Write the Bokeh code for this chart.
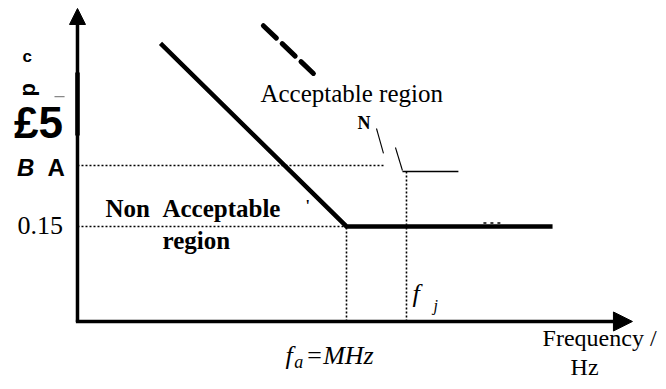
import math
from bokeh.plotting import figure
from bokeh.models import Range1d, Label, Arrow, NormalHead
from bokeh.embed import file_html
from bokeh.resources import INLINE

# ---- data (diagram units: frequency in units of f_a, level in V) ----
limit_x = [0.3086, 1.0, 1.766]          # threshold curve
limit_y = [0.439, 0.15, 0.15]
dash_x = [0.691, 0.877]                 # dashed extrapolation
dash_y = [0.467, 0.3916]
level_low = 0.15                        # 0.15 level
level_high = 0.2463                     # upper dotted level
fa = 1.0                                # f_a
fj = 1.223                              # f_j
fj_level = 0.2368
step_x = [1.208, 1.416]
upper_dot_end = 1.145
slash_x0 = [1.1115, 1.182]
slash_y0 = [0.3047, 0.2747]
slash_x1 = [1.1375, 1.208]
slash_y1 = [0.2653, 0.2384]
bump_x = [1.509, 1.572]
bump_y = [0.1555, 0.1555]
x_axis_end = 2.063
y_axis_end = 0.4942

SERIF = "Liberation Serif"
SANS = "Liberation Sans"

p = figure(width=666, height=389, output_backend="svg", toolbar_location=None,
           x_range=Range1d(-0.2862, 2.1896), y_range=Range1d(-0.1074, 0.5068),
           x_axis_location=None, y_axis_location=None, min_border=0)
p.grid.visible = False
p.outline_line_color = None
p.background_fill_color = "white"
p.border_fill_color = "white"

# dotted guide lines
dot = dict(line_color="black", line_width=1.6, line_dash="2 2")
p.line([0, fa], [level_low, level_low], **dot)
p.line([0, upper_dot_end], [level_high, level_high], **dot)
p.line([fa, fa], [0, level_low], **dot)
p.line([fj, fj], [0, fj_level], **dot)

# threshold curve
p.line(limit_x, limit_y, line_color="black", line_width=4.5, line_join="miter")
p.line(dash_x, dash_y, line_color="black", line_width=5, line_dash="18 8", line_cap="round")
p.line(bump_x, bump_y, line_color="black", line_width=1.5, line_dash="3 4")

# thin step at f_j and slashes
p.line(step_x, [fj_level, fj_level], line_color="black", line_width=1.6)
p.segment(slash_x0, slash_y0, slash_x1, slash_y1, line_color="black", line_width=1.1)

# axes with arrows
p.add_layout(Arrow(end=NormalHead(size=16, fill_color="black", line_color="black"),
                   x_start=0, y_start=-0.001, x_end=0, y_end=y_axis_end,
                   line_color="black", line_width=3.5))
p.add_layout(Arrow(end=NormalHead(size=19, fill_color="black", line_color="black"),
                   x_start=-0.006, y_start=0, x_end=x_axis_end, y_end=0,
                   line_color="black", line_width=3.5))
# thicker blotch on y axis
p.line([0, 0], [0.2937, 0.393], line_color="black", line_width=4.5)
# small gray dash
p.line([-0.0855, -0.048], [0.355, 0.355], line_color="#888888", line_width=1.2)


def lab(text, x, y, size, font=SERIF, style="normal", align="left", angle=0.0, color="black"):
    p.add_layout(Label(x=x, y=y, text=text, text_font=font, text_font_size=f"{size}px",
                       text_font_style=style, text_align=align, text_baseline="middle",
                       angle=angle, text_color=color))


lab("Acceptable region", 0.680, 0.360, 25)
lab("N", 1.041, 0.314, 18, style="bold")
lab("Non\u00a0\u00a0Acceptable", 0.104, 0.178, 25, style="bold")
lab("region", 0.316, 0.128, 25, style="bold")
lab("0.15", -0.223, 0.1516, 26)
lab("c", -0.2045, 0.418, 17, font=SANS, style="bold")
lab("d", -0.173, 0.366, 22, font=SANS, style="bold", align="center", angle=-math.pi / 2)
lab("£5", -0.236, 0.3134, 44, font=SANS, style="bold")
lab("B", -0.225, 0.243, 24, font=SANS, style="bold italic")
lab("A", -0.1115, 0.243, 24, font=SANS, style="bold")
lab("f", 0.773, -0.0537, 26, style="italic")
lab("a", 0.806, -0.0640, 18, style="italic")
lab("=MHz", 0.848, -0.0537, 26, style="italic")
lab("f", 1.245, 0.0442, 26, style="italic")
lab("j", 1.323, 0.0253, 16, style="italic")
lab("Frequency /", 1.729, -0.0253, 24)
lab("Hz", 1.885, -0.0726, 24, align="center")
lab("'", 0.848, 0.183, 16, style="bold")

open("out.html", "w").write(file_html(p, INLINE))
